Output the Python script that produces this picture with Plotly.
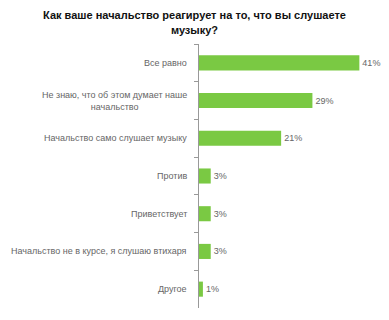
import plotly.graph_objects as go

categories = [
    "Все равно",
    "Не знаю, что об этом думает наше<br>начальство",
    "Начальство само слушает музыку",
    "Против",
    "Приветствует",
    "Начальство не в курсе, я слушаю втихаря",
    "Другое",
]
values = [41, 29, 21, 3, 3, 3, 1]
value_labels = ["41%", "29%", "21%", "3%", "3%", "3%", "1%"]

title = "Как ваше начальство реагирует на то, что вы слушаете<br>музыку?"

fig = go.Figure()
fig.add_trace(go.Bar(
    x=values, y=categories, orientation="h",
    marker=dict(color="#7ac943", line=dict(width=0)),
    text=value_labels, textposition="outside", cliponaxis=False,
    textfont=dict(family="Liberation Sans, Arial", size=9, color="#666666"),
    hoverinfo="skip",
))

for c in categories:
    fig.add_annotation(
        x=0, xref="paper", y=c, yref="y", xanchor="right", yanchor="middle",
        text=c, align="center", showarrow=False, xshift=-10,
        font=dict(family="Liberation Sans, Arial", size=9, color="#666666"),
    )

fig.update_layout(
    width=389, height=320,
    margin=dict(l=199, r=14, t=44, b=12),
    paper_bgcolor="white", plot_bgcolor="white",
    bargap=0.6, showlegend=False,
    title=dict(text="<b>" + title + "</b>", x=0.5, xref="container", xanchor="center",
               y=0.94, yref="container", yanchor="middle",
               font=dict(family="Liberation Sans, Arial", size=11, color="#111111")),
    xaxis=dict(range=[0, 45], visible=False, fixedrange=True),
    yaxis=dict(autorange="reversed", showticklabels=False, showline=True, linecolor="#999999",
               linewidth=1, ticks="outside", ticklen=4, tickcolor="#999999",
               tickson="boundaries", showgrid=False, zeroline=False),
)

fig.write_html("out.html")
